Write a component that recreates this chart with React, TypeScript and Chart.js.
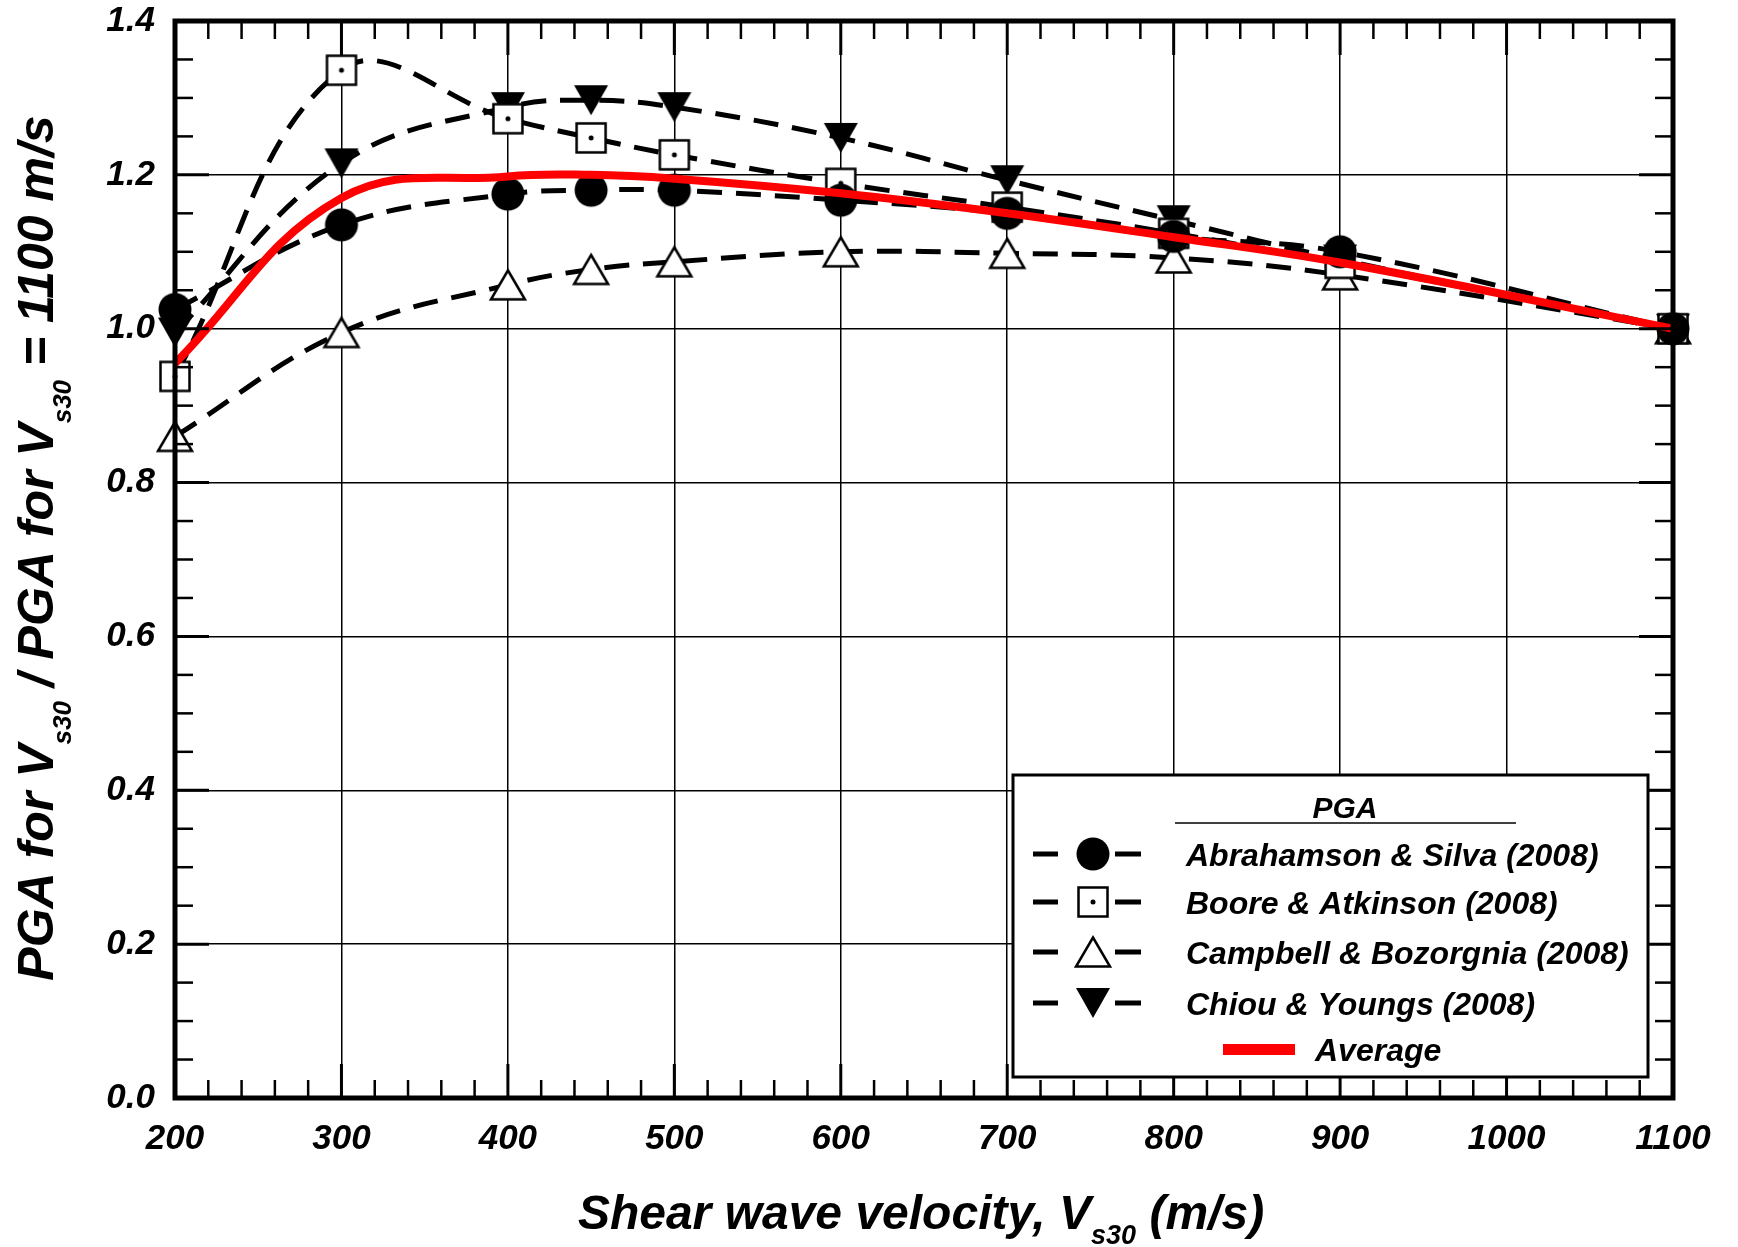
import React, { useEffect, useRef } from "react";
import { Chart, registerables } from "chart.js";

Chart.register(...registerables);

// ---------- data ----------
const vs30 = [200, 300, 400, 450, 500, 600, 700, 800, 900, 1100];
const abrahamsonSilva = [1.025, 1.135, 1.175, 1.18, 1.18, 1.167, 1.15, 1.12, 1.1, 1.0];
const booreAtkinson = [0.938, 1.336, 1.273, 1.248, 1.226, 1.189, 1.158, 1.124, 1.085, 1.0];
const campbellBozorgnia = [0.86, 0.995, 1.057, 1.077, 1.087, 1.1, 1.098, 1.092, 1.07, 1.0];
const chiouYoungs = [0.995, 1.215, 1.288, 1.297, 1.288, 1.248, 1.193, 1.141, 1.09, 1.0];
const average = [0.955, 1.17, 1.198, 1.2, 1.195, 1.176, 1.15, 1.119, 1.086, 1.0];

const seriesNames = [
  "Abrahamson & Silva (2008)",
  "Boore & Atkinson (2008)",
  "Campbell & Bozorgnia (2008)",
  "Chiou & Youngs (2008)",
];
const averageName = "Average";
const legendTitle = "PGA";

const xMin = 200;
const xMax = 1100;
const xStep = 100;
const xMinorStep = 20;
const yMin = 0;
const yMax = 1.4;
const yStep = 0.2;
const yMinorStep = 0.05;

const FONT = '"Liberation Sans", Arial, Helvetica, sans-serif';

function makeMarker(kind: string): HTMLCanvasElement {
  const c = document.createElement("canvas");
  const s = 40;
  c.width = s;
  c.height = s;
  const g = c.getContext("2d")!;
  const m = s / 2;
  g.lineWidth = 2.5;
  g.strokeStyle = "#000";
  g.fillStyle = "#000";
  g.lineJoin = "miter";
  if (kind === "circle") {
    g.beginPath();
    g.arc(m, m, 16.5, 0, Math.PI * 2);
    g.fill();
  } else if (kind === "square") {
    g.fillStyle = "#fff";
    g.fillRect(m - 14.5, m - 14.5, 29, 29);
    g.strokeRect(m - 14.5, m - 14.5, 29, 29);
    g.fillStyle = "#000";
    g.beginPath();
    g.arc(m, m, 2.5, 0, Math.PI * 2);
    g.fill();
  } else if (kind === "triUp") {
    g.beginPath();
    g.moveTo(m, m - 14.5);
    g.lineTo(m + 17, m + 14.5);
    g.lineTo(m - 17, m + 14.5);
    g.closePath();
    g.fillStyle = "#fff";
    g.fill();
    g.stroke();
  } else {
    g.beginPath();
    g.moveTo(m - 17, m - 15);
    g.lineTo(m + 17, m - 15);
    g.lineTo(m, m + 15);
    g.closePath();
    g.fill();
  }
  return c;
}

function drawRichText(
  ctx: CanvasRenderingContext2D,
  parts: { t: string; sub: boolean }[],
  cx: number,
  baseline: number,
  mainSize: number,
  subSize: number,
  subOffset: number
) {
  const mainFont = `italic bold ${mainSize}px ${FONT}`;
  const subFont = `italic bold ${subSize}px ${FONT}`;
  let total = 0;
  const widths = parts.map((p) => {
    ctx.font = p.sub ? subFont : mainFont;
    const w = ctx.measureText(p.t).width;
    total += w;
    return w;
  });
  let x = cx - total / 2;
  ctx.textAlign = "left";
  ctx.textBaseline = "alphabetic";
  parts.forEach((p, i) => {
    ctx.font = p.sub ? subFont : mainFont;
    ctx.fillText(p.t, x, p.sub ? baseline + subOffset : baseline);
    x += widths[i];
  });
}

export default function App() {
  const ref = useRef<HTMLCanvasElement | null>(null);

  useEffect(() => {
    const canvas = ref.current;
    if (!canvas) return;
    const markers = [makeMarker("circle"), makeMarker("square"), makeMarker("triUp"), makeMarker("triDown")];
    const seriesValues = [abrahamsonSilva, booreAtkinson, campbellBozorgnia, chiouYoungs];

    const decorPlugin = {
      id: "decor",
      afterDraw(chart: any) {
        const ctx: CanvasRenderingContext2D = chart.ctx;
        const a = chart.chartArea;
        const xs = chart.scales.x;
        const ys = chart.scales.y;
        ctx.save();
        ctx.strokeStyle = "#000";
        ctx.fillStyle = "#000";
        const seg = (x1: number, y1: number, x2: number, y2: number) => {
          ctx.beginPath();
          ctx.moveTo(x1, y1);
          ctx.lineTo(x2, y2);
          ctx.stroke();
        };
        // x ticks
        for (let v = xMin; v <= xMax + 1e-6; v += xMinorStep) {
          const px = xs.getPixelForValue(v);
          const major = Math.abs(v % xStep) < 1e-6;
          ctx.lineWidth = major ? 3 : 2.5;
          const len = major ? 34 : 18;
          seg(px, a.bottom, px, a.bottom - len);
          seg(px, a.top, px, a.top + len);
        }
        // y ticks
        for (let i = 0; i <= Math.round((yMax - yMin) / yMinorStep); i++) {
          const v = yMin + i * yMinorStep;
          const py = ys.getPixelForValue(v);
          const major = i % Math.round(yStep / yMinorStep) === 0;
          ctx.lineWidth = major ? 3 : 2.5;
          const len = major ? 34 : 18;
          seg(a.left, py, a.left + len, py);
          seg(a.right, py, a.right - len, py);
        }
        // frame
        ctx.lineWidth = 5;
        ctx.strokeRect(a.left, a.top, a.right - a.left, a.bottom - a.top);

        // axis titles
        ctx.fillStyle = "#000";
        drawRichText(
          ctx,
          [
            { t: "Shear wave velocity, V", sub: false },
            { t: "s30", sub: true },
            { t: " (m/s)", sub: false },
          ],
          921,
          1229,
          48,
          27,
          15
        );
        ctx.save();
        ctx.translate(53, 548);
        ctx.rotate(-Math.PI / 2);
        drawRichText(
          ctx,
          [
            { t: "PGA for V", sub: false },
            { t: "s30", sub: true },
            { t: " / PGA for V", sub: false },
            { t: "s30", sub: true },
            { t: " = 1100 m/s", sub: false },
          ],
          0,
          0,
          50,
          26,
          18
        );
        ctx.restore();

        // legend
        const L = 1013, T = 775, R = 1648, B = 1077;
        ctx.fillStyle = "#fff";
        ctx.fillRect(L, T, R - L, B - T);
        ctx.lineWidth = 3;
        ctx.strokeStyle = "#000";
        ctx.strokeRect(L, T, R - L, B - T);
        ctx.fillStyle = "#000";
        ctx.font = `italic bold 30px ${FONT}`;
        ctx.textAlign = "center";
        ctx.textBaseline = "alphabetic";
        ctx.fillText(legendTitle, 1345, 818);
        ctx.lineWidth = 1.5;
        seg(1175, 823, 1516, 823);
        const rows = [854, 902, 952, 1003];
        ctx.font = `italic bold 32px ${FONT}`;
        ctx.textAlign = "left";
        rows.forEach((ry, i) => {
          ctx.lineWidth = 5;
          seg(1033, ry, 1058, ry);
          seg(1115, ry, 1141, ry);
          const mk = markers[i];
          ctx.drawImage(mk, 1093 - mk.width / 2, ry - mk.height / 2);
          ctx.fillText(seriesNames[i], 1186, ry + 12);
        });
        ctx.fillStyle = "#ff0000";
        ctx.fillRect(1223, 1044, 72, 11);
        ctx.fillStyle = "#000";
        ctx.fillText(averageName, 1315, 1061);
        ctx.restore();
      },
    };

    const tickFont = { family: FONT, size: 35, style: "italic" as const, weight: "bold" as const, lineHeight: 1.2 };

    const datasets: any[] = seriesValues.map((vals, i) => ({
      label: seriesNames[i],
      data: vs30.map((x, j) => ({ x, y: vals[j] })),
      borderColor: "#000",
      borderWidth: 5,
      borderDash: [25, 14],
      tension: 0.4,
      pointStyle: markers[i],
      pointRadius: 16,
      pointHoverRadius: 16,
      fill: false,
      clip: false,
      order: 1,
    }));
    datasets.push({
      label: averageName,
      data: vs30.map((x, j) => ({ x, y: average[j] })),
      borderColor: "#ff0000",
      borderWidth: 8,
      tension: 0.4,
      pointRadius: 0,
      fill: false,
      clip: false,
      order: 0,
    });

    const chart = new Chart(canvas, {
      type: "line",
      data: { datasets },
      options: {
        animation: false,
        responsive: false,
        maintainAspectRatio: false,
        events: [],
        layout: { padding: { top: 21, right: 65, left: 0, bottom: 0 } },
        plugins: { legend: { display: false }, tooltip: { enabled: false } },
        scales: {
          x: {
            type: "linear",
            min: xMin,
            max: xMax,
            ticks: {
              stepSize: xStep,
              color: "#000",
              font: tickFont,
              padding: 20,
              maxRotation: 0,
              autoSkip: false,
              callback: (v: any) => String(v),
            },
            grid: { color: "#000", lineWidth: 1.5, drawTicks: false },
            border: { display: false },
            afterFit: (s: any) => {
              s.height = 149;
              s.paddingLeft = 0;
              s.paddingRight = 0;
              s.paddingTop = 0;
              s.paddingBottom = 0;
            },
          },
          y: {
            type: "linear",
            min: yMin,
            max: yMax,
            ticks: {
              stepSize: yStep,
              color: "#000",
              font: tickFont,
              padding: 20,
              callback: (v: any) => Number(v).toFixed(1),
            },
            grid: { color: "#000", lineWidth: 1.5, drawTicks: false },
            border: { display: false },
            afterFit: (s: any) => {
              s.width = 175;
              s.paddingLeft = 0;
              s.paddingRight = 0;
              s.paddingTop = 0;
              s.paddingBottom = 0;
            },
          },
        },
      },
      plugins: [decorPlugin],
    } as any);

    return () => chart.destroy();
  }, []);

  return (
    <div style={{ position: "absolute", left: 0, top: 0, width: 1738, height: 1247, background: "#fff" }}>
      <canvas ref={ref} width={1738} height={1247} style={{ display: "block", width: 1738, height: 1247 }} />
    </div>
  );
}
